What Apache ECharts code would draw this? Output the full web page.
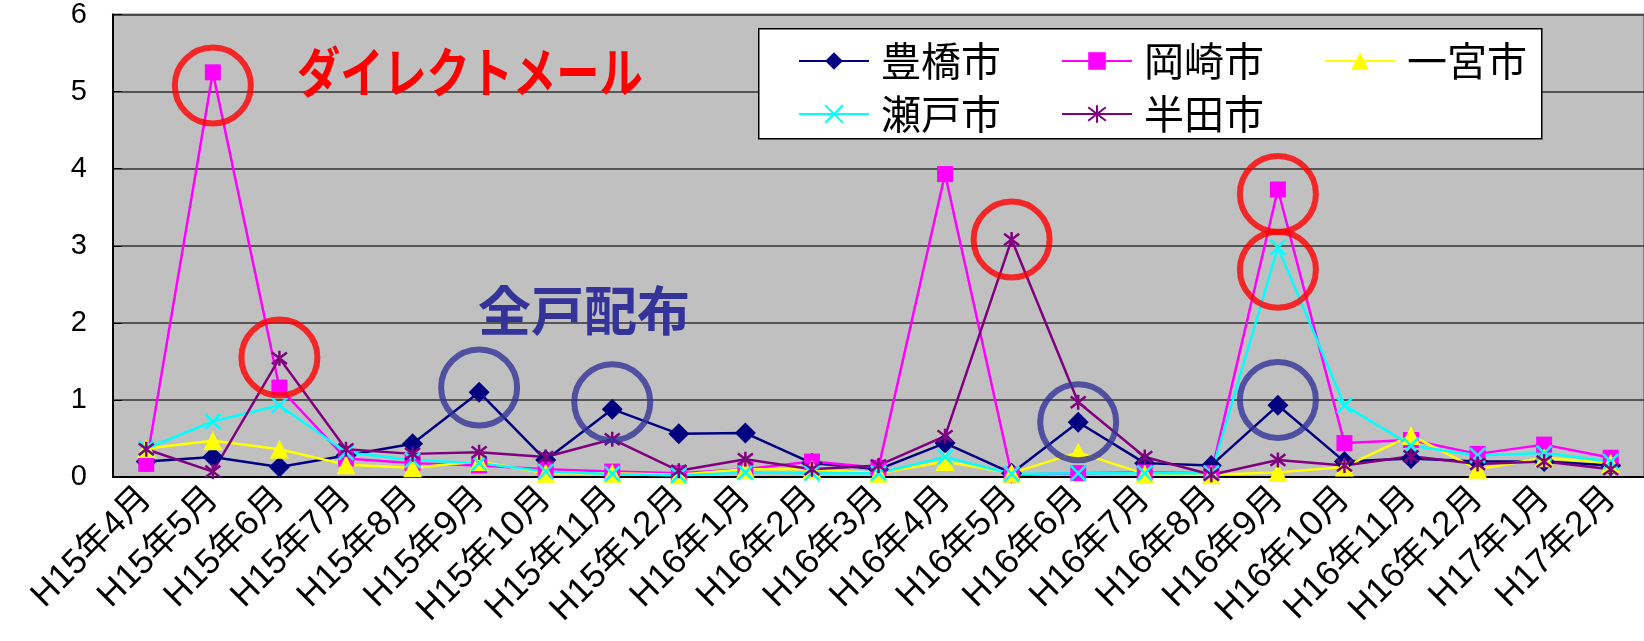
<!DOCTYPE html>
<html>
<head>
<meta charset="utf-8">
<script src="https://cdn.jsdelivr.net/npm/echarts@6/dist/echarts.min.js"></script>
<style>
html,body{margin:0;padding:0;background:#fff;}
#chart{width:1644px;height:641px;}
</style>
</head>
<body>
<div id="chart"></div>
<script>
const categories = ['H15年4月','H15年5月','H15年6月','H15年7月','H15年8月','H15年9月','H15年10月','H15年11月','H15年12月','H16年1月','H16年2月','H16年3月','H16年4月','H16年5月','H16年6月','H16年7月','H16年8月','H16年9月','H16年10月','H16年11月','H16年12月','H17年1月','H17年2月'];
const toyohashi = [0.20,0.26,0.13,0.28,0.43,1.10,0.22,0.88,0.56,0.57,0.18,0.10,0.44,0.05,0.71,0.18,0.15,0.93,0.20,0.24,0.20,0.20,0.15];
const okazaki   = [0.17,5.25,1.16,0.24,0.18,0.15,0.10,0.07,0.05,0.10,0.20,0.12,3.93,0.03,0.05,0.06,0.05,3.73,0.44,0.48,0.30,0.42,0.25];
const ichinomiya= [0.37,0.47,0.36,0.16,0.12,0.20,0.05,0.05,0.03,0.10,0.10,0.05,0.20,0.05,0.32,0.04,0.03,0.06,0.13,0.54,0.10,0.25,0.18];
const seto      = [0.37,0.72,0.93,0.32,0.22,0.18,0.07,0.04,0.02,0.06,0.05,0.05,0.26,0.04,0.05,0.05,0.05,2.98,0.93,0.41,0.28,0.31,0.20];
const handa     = [0.36,0.07,1.54,0.36,0.30,0.32,0.26,0.49,0.08,0.23,0.10,0.15,0.53,3.08,0.97,0.26,0.03,0.22,0.15,0.27,0.17,0.20,0.10];
const yTicks = [0,1,2,3,4,5,6];
// highlight circles: [category index, value]
const redCircles  = [[1.02,5.08],[1.93,1.55],[13.04,3.08],[17.12,3.67],[17.12,2.69]];
const blueCircles = [[5.11,1.16],[7.15,0.97],[14.18,0.71],[17.12,1.00]];

const chart = echarts.init(document.getElementById('chart'));
const FONT = '"Liberation Sans", "Noto Sans CJK JP", sans-serif';
const XPATH = 'path://M0,0L10,10M10,0L0,10';
const STAR = 'path://M0,0L10,10M10,0L0,10M5,-1.5L5,11.5';

function lineSeries(name, data, color, symbol, size, stroke){
  return {
    name, type:'line', data, symbol, symbolSize:size,
    lineStyle:{color, width:2.5},
    itemStyle:{color: stroke ? 'transparent' : color, borderColor: color, borderWidth: stroke ? 2.5 : 0},
    emphasis:{disabled:true}, animation:false
  };
}
const legendBase = {
  left: 793, itemWidth: 70, itemHeight: 22, itemGap: 60,
  textStyle:{fontSize:40, fontFamily:'"Noto Sans CJK JP", sans-serif', color:'#000', padding:[0,0,0,7]},
  selectedMode:false, z: 10
};
chart.setOption({
  animation:false,
  grid:{left:113, top:13, right:-3, bottom:164, show:true, backgroundColor:'#C0C0C0', borderColor:'#808080', borderWidth:2},
  legend:[
    Object.assign({}, legendBase, {data:['豊橋市','岡崎市','一宮市'], top:36}),
    Object.assign({}, legendBase, {data:['瀬戸市','半田市'], top:89})
  ],
  graphic:[
    {type:'rect', left:758, top:28, z:5, shape:{width:783, height:110}, style:{fill:'#fff', stroke:'#000', lineWidth:1.5}},
    {type:'text', x:297, y:45, scaleX:0.8, z:6, style:{text:'ダイレクトメール', fill:'#FF0000', font:'bold 54px "Noto Sans CJK JP"'}},
    {type:'text', x:478, y:284, z:6, style:{text:'全戸配布', fill:'#333399', font:'bold 53px "Noto Sans CJK JP"'}}
  ],
  xAxis:{
    type:'category', data:categories, boundaryGap:true,
    axisLine:{lineStyle:{color:'#000', width:2}},
    axisTick:{inside:true, length:8, lineStyle:{color:'#000', width:1}},
    axisLabel:{rotate:45, fontSize:35, fontFamily:FONT, color:'#000', margin:16, interval:0},
    splitLine:{show:false}
  },
  yAxis:{
    type:'value', min:0, max:6, interval:1,
    axisLine:{show:true, lineStyle:{color:'#000', width:2}},
    axisTick:{show:true, inside:true, length:9, lineStyle:{color:'#000', width:1}},
    axisLabel:{fontSize:29, fontFamily:FONT, color:'#000', margin:26,
      formatter: v => yTicks.includes(v) ? String(v) : ''},
    splitLine:{lineStyle:{color:'#333', width:1.5}}
  },
  series:[
    lineSeries('豊橋市', toyohashi, '#000080', 'diamond', 21, false),
    lineSeries('岡崎市', okazaki, '#FF00FF', 'rect', 16, false),
    lineSeries('一宮市', ichinomiya, '#FFFF00', 'triangle', 19, false),
    lineSeries('瀬戸市', seto, '#00FFFF', XPATH, 15, true),
    lineSeries('半田市', handa, '#800080', STAR, 15, true),
    {type:'scatter', data:redCircles, symbol:'circle', symbolSize:76, silent:true, z:8,
      itemStyle:{color:'rgba(0,0,0,0)', borderColor:'#FF0000', borderWidth:6}},
    {type:'scatter', data:blueCircles, symbol:'circle', symbolSize:76, silent:true, z:8,
      itemStyle:{color:'rgba(0,0,0,0)', borderColor:'#333399', borderWidth:6}}
  ]
});
</script>
</body>
</html>
